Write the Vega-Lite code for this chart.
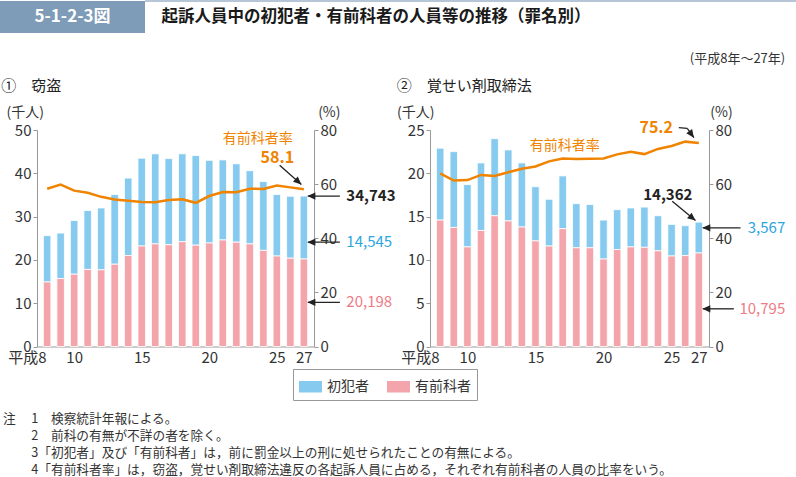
{
  "$schema": "https://vega.github.io/schema/vega-lite/v6.json",
  "padding": 0,
  "background": "white",
  "spacing": 19,
  "datasets": {
    "theft": [
      {"year": 8, "初犯者": 10.7, "有前科者": 14.9, "rate": 58.3},
      {"year": 9, "初犯者": 10.5, "有前科者": 15.7, "rate": 59.8},
      {"year": 10, "初犯者": 12.4, "有前科者": 16.7, "rate": 57.6},
      {"year": 11, "初犯者": 13.6, "有前科者": 17.8, "rate": 56.8},
      {"year": 12, "初犯者": 14.3, "有前科者": 17.7, "rate": 55.3},
      {"year": 13, "初犯者": 16.1, "有前科者": 19.0, "rate": 54.3},
      {"year": 14, "初犯者": 17.9, "有前科者": 21.0, "rate": 53.9},
      {"year": 15, "初犯者": 20.3, "有前科者": 23.2, "rate": 53.4},
      {"year": 16, "初犯者": 20.8, "有前科者": 23.7, "rate": 53.3},
      {"year": 17, "初犯者": 19.9, "有前科者": 23.5, "rate": 54.1},
      {"year": 18, "初犯者": 20.3, "有前科者": 24.2, "rate": 54.4},
      {"year": 19, "初犯者": 20.7, "有前科者": 23.4, "rate": 53.1},
      {"year": 20, "初犯者": 19.1, "有前科者": 23.9, "rate": 55.6},
      {"year": 21, "初犯者": 18.5, "有前科者": 24.6, "rate": 57.1},
      {"year": 22, "初犯者": 18.1, "有前科者": 24.1, "rate": 57.0},
      {"year": 23, "初犯者": 16.9, "有前科者": 23.7, "rate": 58.3},
      {"year": 24, "初犯者": 15.9, "有前科者": 22.2, "rate": 58.2},
      {"year": 25, "初犯者": 14.2, "有前科者": 20.9, "rate": 59.5},
      {"year": 26, "初犯者": 14.3, "有前科者": 20.4, "rate": 58.8},
      {"year": 27, "初犯者": 14.545, "有前科者": 20.198, "rate": 58.1}
    ],
    "drug": [
      {"year": 8, "初犯者": 8.3, "有前科者": 14.6, "rate": 64.0},
      {"year": 9, "初犯者": 8.75, "有前科者": 13.75, "rate": 61.3},
      {"year": 10, "初犯者": 7.2, "有前科者": 11.5, "rate": 61.5},
      {"year": 11, "初犯者": 7.8, "有前科者": 13.4, "rate": 63.4},
      {"year": 12, "初犯者": 8.9, "有前科者": 15.1, "rate": 63.0},
      {"year": 13, "初犯者": 8.2, "有前科者": 14.5, "rate": 64.4},
      {"year": 14, "初犯者": 7.4, "有前科者": 13.8, "rate": 65.7},
      {"year": 15, "初犯者": 6.25, "有前科者": 12.2, "rate": 66.5},
      {"year": 16, "初犯者": 5.4, "有前科者": 11.6, "rate": 68.4},
      {"year": 17, "初犯者": 6.1, "有前科者": 13.6, "rate": 69.5},
      {"year": 18, "初犯者": 5.1, "有前科者": 11.4, "rate": 69.3},
      {"year": 19, "初犯者": 5.0, "有前科者": 11.4, "rate": 69.4},
      {"year": 20, "初犯者": 4.5, "有前科者": 10.1, "rate": 69.5},
      {"year": 21, "初犯者": 4.6, "有前科者": 11.2, "rate": 71.0},
      {"year": 22, "初犯者": 4.5, "有前科者": 11.5, "rate": 72.0},
      {"year": 23, "初犯者": 4.65, "有前科者": 11.45, "rate": 71.1},
      {"year": 24, "初犯者": 4.05, "有前科者": 11.05, "rate": 73.0},
      {"year": 25, "初犯者": 3.65, "有前科者": 10.45, "rate": 74.1},
      {"year": 26, "初犯者": 3.45, "有前科者": 10.5, "rate": 75.7},
      {"year": 27, "初犯者": 3.567, "有前科者": 10.795, "rate": 75.2}
    ],
    "annTheft": [
      {"year": 27, "value": 34.743, "label": "34,743", "k": "total"},
      {"year": 27, "value": 24.1, "label": "14,545", "k": "first"},
      {"year": 27, "value": 10.2, "label": "20,198", "k": "prior"}
    ],
    "rateTheft": [{"year": 27, "rate": 58.1, "label": "58.1"}],
    "annDrug": [
      {"year": 27, "value": 14.362, "label": "14,362", "k": "total"},
      {"year": 27, "value": 13.7, "label": "3,567", "k": "first"},
      {"year": 27, "value": 4.35, "label": "10,795", "k": "prior"}
    ],
    "rateDrug": [{"year": 27, "rate": 75.2, "label": "75.2"}]
  },
  "title": {
    "text": [
      "注　 1　検察統計年報による。",
      "\u200b　　 2　前科の有無が不詳の者を除く。",
      "\u200b　　 3「初犯者」及び「有前科者」は，前に罰金以上の刑に処せられたことの有無による。",
      "\u200b　　 4「有前科者率」は，窃盗，覚せい剤取締法違反の各起訴人員に占める，それぞれ有前科者の人員の比率をいう。"
    ],
    "orient": "bottom",
    "anchor": "start",
    "frame": "bounds",
    "fontSize": 12.7,
    "fontWeight": "normal",
    "color": "#333",
    "lineHeight": 17.3,
    "offset": 12,
    "dx": 3
  },
  "vconcat": [
    {
      "hconcat": [
        {
          "width": 145,
          "height": 32,
          "view": {"fill": "#7e9bb8", "stroke": null},
          "data": {"values": [{"label": "5-1-2-3図"}]},
          "mark": {"type": "text", "color": "white", "fontSize": 17, "fontWeight": "bold", "align": "center", "baseline": "middle"},
          "encoding": {"text": {"field": "label"}}
        },
        {
          "width": 462,
          "height": 32,
          "layer": [
            {
              "data": {"values": [{"v": 1}]},
              "mark": {"type": "rule", "color": "#b7c6d6", "strokeWidth": 2},
              "encoding": {"y": {"field": "v", "type": "quantitative", "scale": {"domain": [0, 1]}, "axis": null}}
            },
            {
              "data": {"values": [{"label": "起訴人員中の初犯者・有前科者の人員等の推移（罪名別）"}]},
              "mark": {"type": "text", "color": "#1a1a1a", "fontSize": 16.5, "fontWeight": "bold", "align": "center", "baseline": "middle"},
              "encoding": {"text": {"field": "label"}}
            }
          ]
        },
        {
          "width": 189,
          "height": 32,
          "data": {"values": [{"v": 1}]},
          "mark": {"type": "rule", "color": "#b7c6d6", "strokeWidth": 2},
          "encoding": {"y": {"field": "v", "type": "quantitative", "scale": {"domain": [0, 1]}, "axis": null}}
        }
      ],
      "bounds": "flush",
      "spacing": 0
    },
    {
      "title": {"text": "(平成8年～27年)", "anchor": "end", "frame": "bounds", "orient": "top", "fontSize": 13, "fontWeight": "normal", "color": "#333", "offset": 13},
      "bounds": "full",
      "spacing": 0,
      "hconcat": [
        {
          "width": 1,
          "height": 10,
          "data": {"values": [{"t": ""}]},
          "mark": {"type": "text"},
          "encoding": {"text": {"field": "t"}}
        },
        {
          "width": 277,
          "height": 216.5,
          "title": {"text": "①　窃盗", "anchor": "start", "frame": "group", "dx": -35.7, "offset": 12, "fontSize": 15, "fontWeight": "normal", "color": "#222"},
          "encoding": {
            "x": {
              "field": "year", "type": "quantitative",
              "scale": {"domain": [7.62, 27.38], "nice": false, "zero": false},
              "axis": {
                "values": [8, 10, 15, 20, 25, 27], "ticks": false, "grid": false, "title": null,
                "labelExpr": "datum.value == 8 ? '平成8' : datum.label",
                "labelAlign": {"condition": {"test": "datum.value == 8", "value": "right"}, "value": "center"},
                "labelOffset": {"condition": {"test": "datum.value == 8", "value": -1}, "value": 0},
                "labelFontSize": 15, "labelPadding": 4, "domainColor": "#999", "labelFlush": false, "labelColor": "#333"
              }
            }
          },
          "layer": [
            {
              "layer": [
                {
                  "data": {"name": "theft"},
                  "transform": [{"fold": ["初犯者", "有前科者"], "as": ["type", "value"]}],
                  "mark": {"type": "bar", "width": 7.5, "stroke": "white", "strokeWidth": 0.8},
                  "encoding": {
                    "y": {
                      "field": "value", "type": "quantitative", "stack": "zero", "title": "(千人)",
                      "scale": {"domain": [0, 50], "nice": false},
                      "axis": {"values": [0, 10, 20, 30, 40, 50], "titleAngle": 0, "titleX": -12.2, "titleY": -17.5, "titleAlign": "center", "titleBaseline": "middle", "titleFontSize": 14, "titleFontWeight": "normal", "titleColor": "#333", "tickSize": 4, "labelPadding": 2, "labelFontSize": 15, "grid": false, "domainColor": "#999", "tickColor": "#999", "labelColor": "#333"}
                    },
                    "color": {
                      "field": "type", "type": "nominal",
                      "scale": {"domain": ["初犯者", "有前科者"], "range": ["#86cbef", "#f3a5ab"]},
                      "legend": {"orient": "none", "legendX": 293, "legendY": 368, "direction": "horizontal", "title": null}
                    },
                    "order": {"field": "type", "sort": "descending"}
                  }
                },
                {
                  "data": {"name": "annTheft"},
                  "mark": {"type": "rule", "color": "#222", "strokeWidth": 1.3, "xOffset": 4, "x2Offset": 36},
                  "encoding": {"y": {"field": "value", "type": "quantitative", "title": "(千人)"}, "x2": {"field": "year"}, "y2": {"field": "value"}}
                },
                {
                  "data": {"name": "annTheft"},
                  "mark": {"type": "point", "shape": "M0,0L-2,-0.9L-2,0.9Z", "size": 64, "filled": true, "color": "#222", "opacity": 1, "strokeWidth": 0, "angle": 180, "xOffset": 3.5},
                  "encoding": {"y": {"field": "value", "type": "quantitative", "title": "(千人)"}}
                },
                {
                  "data": {"name": "annTheft"},
                  "transform": [{"filter": "datum.k == 'total'"}],
                  "mark": {"type": "text", "align": "left", "baseline": "middle", "dx": 42.5, "fontSize": 15, "fontWeight": "bold", "color": "#222"},
                  "encoding": {"y": {"field": "value", "type": "quantitative", "title": "(千人)"}, "text": {"field": "label"}}
                },
                {
                  "data": {"name": "annTheft"},
                  "transform": [{"filter": "datum.k == 'first'"}],
                  "mark": {"type": "text", "align": "left", "baseline": "middle", "dx": 42.5, "fontSize": 15, "color": "#2ba6df"},
                  "encoding": {"y": {"field": "value", "type": "quantitative", "title": "(千人)"}, "text": {"field": "label"}}
                },
                {
                  "data": {"name": "annTheft"},
                  "transform": [{"filter": "datum.k == 'prior'"}],
                  "mark": {"type": "text", "align": "left", "baseline": "middle", "dx": 42.5, "fontSize": 15, "color": "#ef7b85"},
                  "encoding": {"y": {"field": "value", "type": "quantitative", "title": "(千人)"}, "text": {"field": "label"}}
                }
              ]
            },
            {
              "layer": [
                {
                  "data": {"name": "theft"},
                  "mark": {"type": "line", "color": "#f08300", "strokeWidth": 2.5},
                  "encoding": {
                    "y": {
                      "field": "rate", "type": "quantitative", "title": "(%)",
                      "scale": {"domain": [0, 80], "nice": false},
                      "axis": {"orient": "right", "values": [0, 10, 20, 30, 40, 50, 60, 70, 80], "titleAngle": 0, "titleX": 14.8, "titleY": -17.5, "titleAlign": "center", "titleBaseline": "middle", "titleFontSize": 14, "titleFontWeight": "normal", "titleColor": "#333", "tickSize": 4, "labelPadding": 2, "labelFontSize": 15, "grid": false, "domainColor": "#999", "tickColor": "#999", "labelColor": "#333"}
                    }
                  }
                },
                {
                  "data": {"name": "rateTheft"},
                  "mark": {"type": "text", "align": "center", "baseline": "middle", "dx": -26.5, "dy": -31.5, "fontSize": 16, "fontWeight": "bold", "color": "#f08300"},
                  "encoding": {"y": {"field": "rate", "type": "quantitative", "title": "(%)"}, "text": {"field": "label"}}
                },
                {
                  "data": {"name": "rateTheft"},
                  "mark": {"type": "text", "align": "center", "baseline": "middle", "dx": -46, "dy": -50, "fontSize": 14, "color": "#f08300"},
                  "encoding": {"y": {"field": "rate", "type": "quantitative", "title": "(%)"}, "text": {"value": "有前科者率"}}
                },
                {
                  "data": {"name": "rateTheft"},
                  "mark": {"type": "rule", "color": "#222", "strokeWidth": 1.3, "xOffset": -24.2, "yOffset": -24.1, "x2Offset": -2.5, "y2Offset": -4.8},
                  "encoding": {"y": {"field": "rate", "type": "quantitative", "title": "(%)"}, "x2": {"field": "year"}, "y2": {"field": "rate"}}
                },
                {
                  "data": {"name": "rateTheft"},
                  "mark": {"type": "point", "shape": "M0,0L-2,-0.9L-2,0.9Z", "size": 64, "filled": true, "color": "#222", "opacity": 1, "strokeWidth": 0, "angle": 41.6, "xOffset": -2.5, "yOffset": -4.8},
                  "encoding": {"y": {"field": "rate", "type": "quantitative", "title": "(%)"}}
                }
              ]
            }
          ],
          "resolve": {"scale": {"y": "independent"}}
        },
        {
          "width": 279,
          "height": 216.5,
          "title": {"text": "②　覚せい剤取締法", "anchor": "start", "frame": "group", "dx": -33.3, "offset": 12, "fontSize": 15, "fontWeight": "normal", "color": "#222"},
          "encoding": {
            "x": {
              "field": "year", "type": "quantitative",
              "scale": {"domain": [7.62, 27.38], "nice": false, "zero": false},
              "axis": {
                "values": [8, 10, 15, 20, 25, 27], "ticks": false, "grid": false, "title": null,
                "labelExpr": "datum.value == 8 ? '平成8' : datum.label",
                "labelAlign": {"condition": {"test": "datum.value == 8", "value": "right"}, "value": "center"},
                "labelOffset": {"condition": {"test": "datum.value == 8", "value": -1}, "value": 0},
                "labelFontSize": 15, "labelPadding": 4, "domainColor": "#999", "labelFlush": false, "labelColor": "#333"
              }
            }
          },
          "layer": [
            {
              "layer": [
                {
                  "data": {"name": "drug"},
                  "transform": [{"fold": ["初犯者", "有前科者"], "as": ["type", "value"]}],
                  "mark": {"type": "bar", "width": 7.5, "stroke": "white", "strokeWidth": 0.8},
                  "encoding": {
                    "y": {
                      "field": "value", "type": "quantitative", "stack": "zero", "title": "(千人)",
                      "scale": {"domain": [0, 25], "nice": false},
                      "axis": {"values": [0, 5, 10, 15, 20, 25], "titleAngle": 0, "titleX": -14.8, "titleY": -17.5, "titleAlign": "center", "titleBaseline": "middle", "titleFontSize": 14, "titleFontWeight": "normal", "titleColor": "#333", "tickSize": 4, "labelPadding": 2, "labelFontSize": 15, "grid": false, "domainColor": "#999", "tickColor": "#999", "labelColor": "#333"}
                    },
                    "color": {
                      "field": "type", "type": "nominal",
                      "scale": {"domain": ["初犯者", "有前科者"], "range": ["#86cbef", "#f3a5ab"]},
                      "legend": {"orient": "none", "legendX": 293, "legendY": 368, "direction": "horizontal", "title": null}
                    },
                    "order": {"field": "type", "sort": "descending"}
                  }
                },
                {
                  "data": {"name": "annDrug"},
                  "transform": [{"filter": "datum.k == 'total'"}],
                  "mark": {"type": "rule", "color": "#222", "strokeWidth": 1.3, "xOffset": -26.6, "yOffset": -20.9, "x2Offset": -3.3, "y2Offset": -1.6},
                  "encoding": {"y": {"field": "value", "type": "quantitative", "title": "(千人)"}, "x2": {"field": "year"}, "y2": {"field": "value"}}
                },
                {
                  "data": {"name": "annDrug"},
                  "transform": [{"filter": "datum.k == 'total'"}],
                  "mark": {"type": "point", "shape": "M0,0L-2,-0.9L-2,0.9Z", "size": 64, "filled": true, "color": "#222", "opacity": 1, "strokeWidth": 0, "angle": 39.6, "xOffset": -3.3, "yOffset": -1.6},
                  "encoding": {"y": {"field": "value", "type": "quantitative", "title": "(千人)"}}
                },
                {
                  "data": {"name": "annDrug"},
                  "transform": [{"filter": "datum.k == 'total'"}],
                  "mark": {"type": "text", "align": "center", "baseline": "middle", "dx": -31, "dy": -27.6, "fontSize": 15, "fontWeight": "bold", "color": "#222"},
                  "encoding": {"y": {"field": "value", "type": "quantitative", "title": "(千人)"}, "text": {"field": "label"}}
                },
                {
                  "data": {"name": "annDrug"},
                  "transform": [{"filter": "datum.k == 'first'"}],
                  "mark": {"type": "rule", "color": "#222", "strokeWidth": 1.3, "xOffset": 4, "x2Offset": 41.7},
                  "encoding": {"y": {"field": "value", "type": "quantitative", "title": "(千人)"}, "x2": {"field": "year"}, "y2": {"field": "value"}}
                },
                {
                  "data": {"name": "annDrug"},
                  "transform": [{"filter": "datum.k == 'prior'"}],
                  "mark": {"type": "rule", "color": "#222", "strokeWidth": 1.3, "xOffset": 4, "x2Offset": 35},
                  "encoding": {"y": {"field": "value", "type": "quantitative", "title": "(千人)"}, "x2": {"field": "year"}, "y2": {"field": "value"}}
                },
                {
                  "data": {"name": "annDrug"},
                  "transform": [{"filter": "datum.k != 'total'"}],
                  "mark": {"type": "point", "shape": "M0,0L-2,-0.9L-2,0.9Z", "size": 64, "filled": true, "color": "#222", "opacity": 1, "strokeWidth": 0, "angle": 180, "xOffset": 3.5},
                  "encoding": {"y": {"field": "value", "type": "quantitative", "title": "(千人)"}}
                },
                {
                  "data": {"name": "annDrug"},
                  "transform": [{"filter": "datum.k == 'first'"}],
                  "mark": {"type": "text", "align": "right", "baseline": "middle", "dx": 86.4, "fontSize": 15, "color": "#2ba6df"},
                  "encoding": {"y": {"field": "value", "type": "quantitative", "title": "(千人)"}, "text": {"field": "label"}}
                },
                {
                  "data": {"name": "annDrug"},
                  "transform": [{"filter": "datum.k == 'prior'"}],
                  "mark": {"type": "text", "align": "right", "baseline": "middle", "dx": 86.4, "fontSize": 15, "color": "#ef7b85"},
                  "encoding": {"y": {"field": "value", "type": "quantitative", "title": "(千人)"}, "text": {"field": "label"}}
                }
              ]
            },
            {
              "layer": [
                {
                  "data": {"name": "drug"},
                  "mark": {"type": "line", "color": "#f08300", "strokeWidth": 2.5},
                  "encoding": {
                    "y": {
                      "field": "rate", "type": "quantitative", "title": "(%)",
                      "scale": {"domain": [0, 80], "nice": false},
                      "axis": {"orient": "right", "values": [0, 10, 20, 30, 40, 50, 60, 70, 80], "titleAngle": 0, "titleX": 12, "titleY": -17.5, "titleAlign": "center", "titleBaseline": "middle", "titleFontSize": 14, "titleFontWeight": "normal", "titleColor": "#333", "tickSize": 4, "labelPadding": 2, "labelFontSize": 15, "grid": false, "domainColor": "#999", "tickColor": "#999", "labelColor": "#333"}
                    }
                  }
                },
                {
                  "data": {"name": "rateDrug"},
                  "mark": {"type": "text", "align": "center", "baseline": "middle", "dx": -42.6, "dy": -15.3, "fontSize": 16, "fontWeight": "bold", "color": "#f08300"},
                  "encoding": {"y": {"field": "rate", "type": "quantitative", "title": "(%)"}, "text": {"field": "label"}}
                },
                {
                  "data": {"name": "rateDrug"},
                  "mark": {"type": "text", "align": "center", "baseline": "middle", "dx": -134, "dy": 3, "fontSize": 14, "color": "#f08300"},
                  "encoding": {"y": {"field": "rate", "type": "quantitative", "title": "(%)"}, "text": {"value": "有前科者率"}}
                },
                {
                  "data": {"name": "rateDrug"},
                  "mark": {"type": "rule", "color": "#222", "strokeWidth": 1.3, "xOffset": -20, "yOffset": -15.3, "x2Offset": -11.6, "y2Offset": -14.6},
                  "encoding": {"y": {"field": "rate", "type": "quantitative", "title": "(%)"}, "x2": {"field": "year"}, "y2": {"field": "rate"}}
                },
                {
                  "data": {"name": "rateDrug"},
                  "mark": {"type": "rule", "color": "#222", "strokeWidth": 1.3, "xOffset": -11.6, "yOffset": -14.6, "x2Offset": -4.9, "y2Offset": -5.3},
                  "encoding": {"y": {"field": "rate", "type": "quantitative", "title": "(%)"}, "x2": {"field": "year"}, "y2": {"field": "rate"}}
                },
                {
                  "data": {"name": "rateDrug"},
                  "mark": {"type": "point", "shape": "M0,0L-2,-0.9L-2,0.9Z", "size": 64, "filled": true, "color": "#222", "opacity": 1, "strokeWidth": 0, "angle": 54, "xOffset": -4.9, "yOffset": -5.3},
                  "encoding": {"y": {"field": "rate", "type": "quantitative", "title": "(%)"}}
                }
              ]
            }
          ],
          "resolve": {"scale": {"y": "independent"}}
        }
      ]
    }
  ],
  "config": {
    "font": "Noto Sans CJK JP",
    "view": {"stroke": null},
    "legend": {"strokeColor": "#999", "fillColor": "white", "padding": 6, "symbolType": "M-1,-0.5H1V0.5H-1Z", "symbolSize": 529, "symbolStrokeWidth": 0, "labelFontSize": 14, "labelOffset": 5, "columnPadding": 18, "labelColor": "#333"}
  }
}
